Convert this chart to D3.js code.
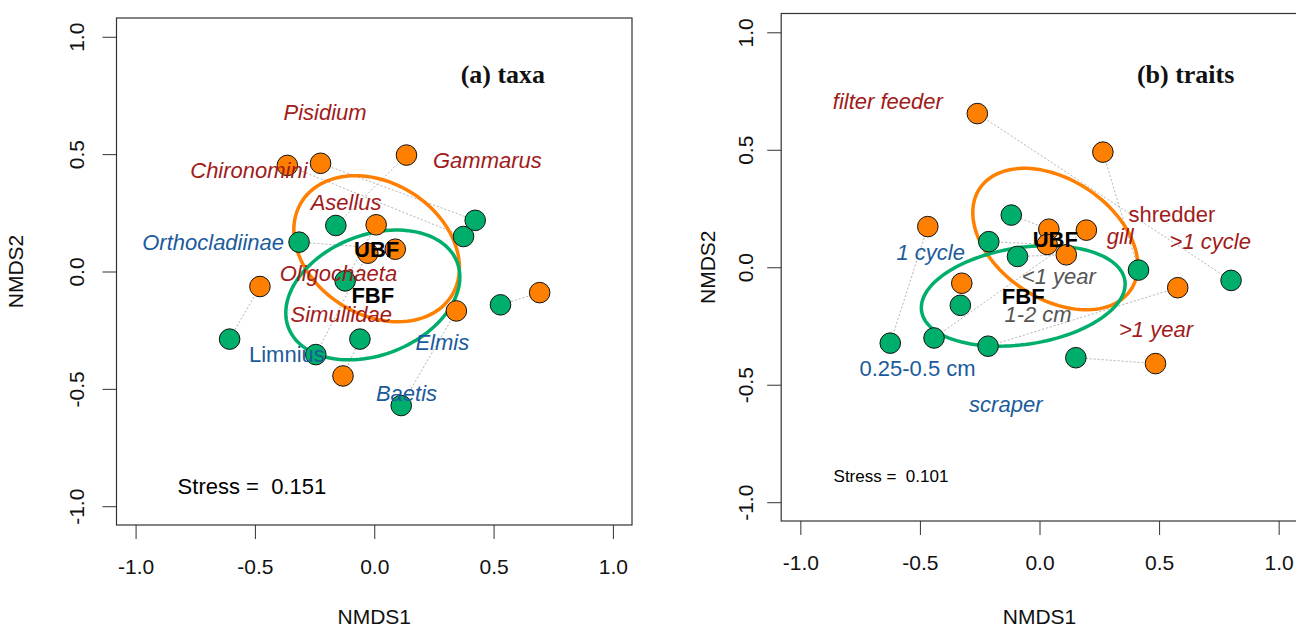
<!DOCTYPE html>
<meta charset="utf-8">
<html>
<head>
<style>
body { margin: 0; background: #fff; }
svg { display: block; font-family: "Liberation Sans", Arial, sans-serif; }
</style>
</head>
<body>
<svg width="1296" height="630"></svg>
<script src="https://d3js.org/d3.v7.min.js"></script>
<script>

// ---------- (a) taxa ----------
// site scores, UBF[i] is paired with FBF[i] (dotted line)
var taxaUbfX = [-0.364, -0.225, 0.135, 0.008, -0.027, 0.088, -0.479, 0.693, 0.344, -0.131];
var taxaUbfY = [0.452, 0.461, 0.496, 0.199, 0.078, 0.095, -0.064, -0.090, -0.168, -0.445];
var taxaFbfX = [0.374, 0.423, -0.161, -0.122, -0.245, -0.315, -0.606, 0.529, 0.113, -0.060];
var taxaFbfY = [0.149, 0.218, 0.196, -0.040, -0.354, 0.125, -0.288, -0.142, -0.571, -0.288];

var taxaNames = ["Pisidium", "Gammarus", "Chironomini", "Asellus", "Orthocladiinae",
                 "Oligochaeta", "Simuliidae", "Limnius", "Elmis", "Baetis"];
var taxaNameX = [-0.206, 0.474, -0.525, -0.118, -0.675, -0.150, -0.138, -0.366, 0.285, 0.135];
var taxaNameY = [0.680, 0.472, 0.433, 0.296, 0.125, -0.007, -0.183, -0.354, -0.300, -0.519];
var taxaNameGroup = ["ubf", "ubf", "ubf", "ubf", "fbf", "ubf", "ubf", "fbf", "fbf", "fbf"];
var taxaNameItalic = [1, 1, 1, 1, 1, 1, 1, 0, 1, 1];

// ellipse: centre x, centre y, semi-axis a, semi-axis b, angle (deg)
var taxaEllipseUbf = [0.010, 0.097, 0.3725, 0.280, -33.5];
var taxaEllipseFbf = [-0.006, -0.100, 0.380, 0.255, 22.3];
var taxaStress = "Stress =  0.151";

// ---------- (b) traits ----------
var traitUbfX = [-0.260, 0.265, -0.467, 0.039, 0.196, 0.032, 0.112, -0.325, 0.578, 0.485];
var traitUbfY = [0.654, 0.490, 0.173, 0.162, 0.158, 0.097, 0.053, -0.068, -0.087, -0.410];
var traitFbfX = [0.801, 0.414, -0.624, -0.118, -0.441, -0.212, -0.092, -0.331, -0.215, 0.152];
var traitFbfY = [-0.056, -0.012, -0.323, 0.222, -0.301, 0.109, 0.046, -0.162, -0.336, -0.385];

var traitNames = ["filter feeder", "shredder", "gill", ">1 cycle", "1 cycle",
                  "<1 year", "1-2 cm", ">1 year", "0.25-0.5 cm", "scraper"];
var traitNameX = [-0.634, 0.554, 0.337, 0.714, -0.455, 0.081, -0.006, 0.487, -0.510, -0.141];
var traitNameY = [0.706, 0.224, 0.133, 0.109, 0.065, -0.038, -0.199, -0.263, -0.432, -0.585];
var traitNameGroup = ["ubf", "ubf", "ubf", "ubf", "fbf", "both", "both", "ubf", "fbf", "fbf"];
var traitNameItalic = [1, 0, 1, 1, 1, 1, 1, 1, 0, 1];

var traitEllipseUbf = [0.066, 0.120, 0.3825, 0.2516, -35];
var traitEllipseFbf = [-0.068, -0.122, 0.430, 0.206, 8.8];
var traitStress = "Stress =  0.101";

var axisTicks = [-1.0, -0.5, 0.0, 0.5, 1.0];
var axisDomain = [-1.08, 1.08];

var colUbf = "#FF7F00", colFbf = "#00AE6B";
var textCol = { ubf: "#A11B1B", fbf: "#1B5B9B", both: "#555555" };

var svg = d3.select("svg");
svg.append("rect").attr("width", 1296).attr("height", 630).attr("fill", "#fff");

function ellipsePath(x, y, e) {
  var th = e[4] * Math.PI / 180, pts = [];
  for (var i = 0; i <= 120; i++) {
    var t = 2 * Math.PI * i / 120;
    var u = e[2] * Math.cos(t), v = e[3] * Math.sin(t);
    pts.push([x(e[0] + u * Math.cos(th) - v * Math.sin(th)),
              y(e[1] + u * Math.sin(th) + v * Math.cos(th))]);
  }
  return d3.line()(pts) + "Z";
}

function drawPanel(p) {
  var x = d3.scaleLinear().domain(axisDomain).range([p.left, p.right]);
  var y = d3.scaleLinear().domain(axisDomain).range([p.bottom, p.top]);
  var g = svg.append("g");
  var fmt = function(d) { return d.toFixed(1); };

  // axes
  var xa = g.append("g").attr("transform", "translate(0," + p.bottom + ")")
    .call(d3.axisBottom(x).tickValues(axisTicks).tickFormat(fmt).tickSize(14).tickPadding(20));
  xa.select(".domain").remove();
  xa.selectAll("text").attr("font-size", 21).attr("fill", "#111");

  var ya = g.append("g").attr("transform", "translate(" + p.left + ",0)")
    .call(d3.axisLeft(y).tickValues(axisTicks).tickFormat(fmt).tickSize(14));
  ya.select(".domain").remove();
  ya.selectAll("text")
    .attr("font-size", 21).attr("fill", "#111")
    .attr("transform", "rotate(-90)")
    .attr("x", 0)
    .attr("y", -p.tickLab).attr("dy", 0)
    .style("text-anchor", "middle");
  g.selectAll(".tick line").attr("stroke", "#333");

  g.append("rect")
    .attr("x", p.left).attr("y", p.top)
    .attr("width", p.right - p.left).attr("height", p.bottom - p.top)
    .attr("fill", "none").attr("stroke", "#333").attr("stroke-width", 1.2);

  g.append("text").text("NMDS1")
    .attr("x", x(0)).attr("y", 624)
    .attr("text-anchor", "middle").attr("font-size", 21).attr("fill", "#111");
  g.append("text").text("NMDS2")
    .attr("transform", "translate(" + (p.left - p.titleLab) + "," + y(0) + ") rotate(-90)")
    .attr("text-anchor", "middle").attr("font-size", 21).attr("fill", "#111");

  // dotted pair lines
  g.selectAll(".pair").data(p.ux).enter().append("line")
    .attr("x1", function(d, i) { return x(p.ux[i]); })
    .attr("y1", function(d, i) { return y(p.uy[i]); })
    .attr("x2", function(d, i) { return x(p.fx[i]); })
    .attr("y2", function(d, i) { return y(p.fy[i]); })
    .attr("stroke", "#b4b4b4").attr("stroke-width", 1).attr("stroke-dasharray", "2,2");

  // ellipses
  g.append("path").attr("d", ellipsePath(x, y, p.eu))
    .attr("fill", "none").attr("stroke", colUbf).attr("stroke-width", 3.5);
  g.append("path").attr("d", ellipsePath(x, y, p.ef))
    .attr("fill", "none").attr("stroke", colFbf).attr("stroke-width", 3.5);

  // points
  g.selectAll(".pu").data(p.ux).enter().append("circle")
    .attr("cx", function(d, i) { return x(p.ux[i]); })
    .attr("cy", function(d, i) { return y(p.uy[i]); })
    .attr("r", 10.3).attr("fill", colUbf).attr("stroke", "#111").attr("stroke-width", 1);
  g.selectAll(".pf").data(p.fx).enter().append("circle")
    .attr("cx", function(d, i) { return x(p.fx[i]); })
    .attr("cy", function(d, i) { return y(p.fy[i]); })
    .attr("r", 10.3).attr("fill", colFbf).attr("stroke", "#111").attr("stroke-width", 1);

  // variable labels
  g.selectAll(".lab").data(p.names).enter().append("text")
    .text(function(d) { return d; })
    .attr("x", function(d, i) { return x(p.nx[i]); })
    .attr("y", function(d, i) { return y(p.ny[i]); })
    .attr("dy", "0.35em")
    .attr("text-anchor", "middle")
    .attr("font-size", 22)
    .attr("font-style", function(d, i) { return p.ital[i] ? "italic" : "normal"; })
    .attr("fill", function(d, i) { return textCol[p.grp[i]]; });

  // group labels at ellipse centres
  [["UBF", p.eu], ["FBF", p.ef]].forEach(function(l) {
    g.append("text").text(l[0])
      .attr("x", x(l[1][0])).attr("y", y(l[1][1])).attr("dy", "0.36em")
      .attr("text-anchor", "middle").attr("font-size", 22).attr("font-weight", "bold")
      .attr("fill", "#000");
  });

  g.append("text").text(p.stress)
    .attr("x", x(p.stressPos[0])).attr("y", y(p.stressPos[1])).attr("dy", "0.35em")
    .attr("font-size", p.stressSize).attr("fill", "#000").style("white-space", "pre");

  g.append("text").text(p.title)
    .attr("x", x(p.titlePos[0])).attr("y", y(p.titlePos[1])).attr("dy", "0.35em")
    .attr("text-anchor", "middle")
    .attr("font-family", "'Liberation Serif', 'Times New Roman', serif")
    .attr("font-weight", "bold").attr("font-size", 26).attr("fill", "#111");
}

drawPanel({
  left: 116.5, right: 632, top: 18, bottom: 525, tickLab: 33, titleLab: 94,
  ux: taxaUbfX, uy: taxaUbfY, fx: taxaFbfX, fy: taxaFbfY,
  names: taxaNames, nx: taxaNameX, ny: taxaNameY, grp: taxaNameGroup, ital: taxaNameItalic,
  eu: taxaEllipseUbf, ef: taxaEllipseFbf,
  stress: taxaStress, stressPos: [-0.824, -0.915], stressSize: 22,
  title: "(a) taxa", titlePos: [0.539, 0.841]
});

drawPanel({
  left: 781.2, right: 1297.8, top: 13.5, bottom: 521, tickLab: 28, titleLab: 66,
  ux: traitUbfX, uy: traitUbfY, fx: traitFbfX, fy: traitFbfY,
  names: traitNames, nx: traitNameX, ny: traitNameY, grp: traitNameGroup, ital: traitNameItalic,
  eu: traitEllipseUbf, ef: traitEllipseFbf,
  stress: traitStress, stressPos: [-0.861, -0.890], stressSize: 17,
  title: "(b) traits", titlePos: [0.611, 0.825]
});

</script>
</body>
</html>
